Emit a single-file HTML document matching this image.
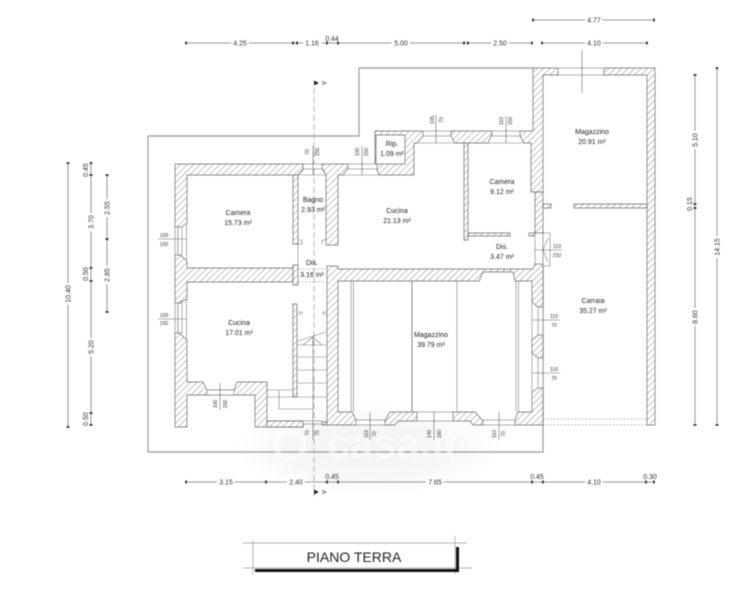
<!DOCTYPE html>
<html><head><meta charset="utf-8">
<style>
html,body{margin:0;padding:0;background:#fff;width:748px;height:600px;overflow:hidden}
svg{display:block;filter:blur(.4px)}
text{font-family:"Liberation Sans",sans-serif;fill:#222;text-anchor:middle}
.r text{font-size:7px}
.d text{font-size:7px;fill:#333}
.w text{font-size:5px;fill:#333}
.wall polygon{fill:url(#h);stroke:#666;stroke-width:.7}
.fr rect,.fr polyline,.fr line{fill:#fff;stroke:#777;stroke-width:.6}
.fr polyline{fill:none}
.dl line{stroke:#777;stroke-width:.8}
.dl path{stroke:#222;stroke-width:1.6}
.wl line{stroke:#666;stroke-width:.6}
</style></head><body>
<svg width="748" height="600" viewBox="0 0 748 600" xmlns="http://www.w3.org/2000/svg">
<defs>
<pattern id="h" width="4.6" height="4.6" patternUnits="userSpaceOnUse" patternTransform="rotate(45)">
<rect width="4.6" height="4.6" fill="#fff"/><line x1="0" y1="0" x2="0" y2="4.6" stroke="#888" stroke-width="1"/>
</pattern>
<radialGradient id="wm"><stop offset="0" stop-color="#000" stop-opacity=".05"/><stop offset=".65" stop-color="#000" stop-opacity=".03"/><stop offset="1" stop-color="#000" stop-opacity="0"/></radialGradient>
</defs>
<rect width="748" height="600" fill="#fff"/>
<ellipse cx="368" cy="450" rx="135" ry="45" fill="url(#wm)"/>

<!-- site boundary -->
<polyline points="148,136 359,136 359,68 533,68" fill="none" stroke="#999" stroke-width="1.2"/>
<polyline points="148,136 148,452 543,452 543,233" fill="none" stroke="#999" stroke-width="1.2"/>
<line x1="314" y1="88" x2="314" y2="496" stroke="#aaa" stroke-width=".9" stroke-dasharray="6 3"/>
<text x="392" y="458" style="font-size:42px;font-weight:bold;fill:#fff;opacity:.55">casa.it</text>
<circle cx="290" cy="445" r="14" fill="none" stroke="#fff" stroke-width="5" opacity=".5"/>

<!-- walls -->
<g class="wall">
<polygon points="175,164 303,164 303,170 298,175 187,175 187,223 181,227 175,227"/>
<polygon points="175,255 180,255 187,261 187,268 293,268 293,282 187,282 187,299 179,303 175,303"/>
<polygon points="175,333 179,333 187,340 187,382 203,382 207,390 234,390 237,382 267,382 267,421 303,421 303,427 255,427 255,395 187,395 187,427 175,427"/>
<polygon points="293,175 298,175 298,244 293,244"/>
<polygon points="293,265 298,265 298,285 293,285"/>
<polygon points="322,164 348,164 348,168 343,175 338,175 338,245 326,245 326,175 322,168"/>
<polygon points="375,131 423,131 423,136 417,143 414,143 414,175 379,175 377,170 377,164 405,164 405,135 376,135 376,164 375,164"/>
<polygon points="451,131 492,131 492,134 488,143 455,143 451,136"/>
<polygon points="520,131 533,131 533,68 558,68 558,75 543,75 543,192 531,192 531,143 524,143 520,136"/>
<polygon points="604,68 655,68 655,425 647,425 647,75 604,75"/>
<polygon points="535,192 543,192 543,233 535,233"/>
<polygon points="464,143 468,143 468,240 464,240"/>
<polygon points="468,233 510,233 510,236 468,236"/>
<polygon points="529,233 535,233 535,236 529,236"/>
<polygon points="543,204 551,204 551,208 543,208"/>
<polygon points="574,204 647,204 647,208 574,208"/>
<polygon points="293,304 297,304 297,397 293,397"/>
<polygon points="327,266 338,266 338,269 533,269 535,264 543,264 543,307 538,307 532,302 532,281 515,281 513,272 483,272 479,281 338,281 338,412 352,412 356,420 356,425 327,425"/>
<polygon points="385,425 385,421 390,412 417,412 417,421 398,421 395,425"/>
<polygon points="453,412 475,412 483,421 483,425 473,425 470,421 453,421"/>
<polygon points="515,425 515,420 518,412 532,412 532,392 538,388 543,388 543,425"/>
<polygon points="543,335 538,335 532,340 532,353 538,358 543,358"/>
<polygon points="267,421 303,421 303,427 267,427"/>
<polygon points="322,422 327,422 327,425 322,425"/>
</g>

<!-- windows and frames -->
<g class="fr">
<rect x="175" y="227" width="3" height="28"/><rect x="178" y="227" width="4" height="28"/>
<polyline points="186.500,223 186.500,261"/>
<rect x="175" y="303" width="3" height="30"/><rect x="178" y="303" width="4" height="30"/>
<polyline points="186.500,299 186.500,340"/>
<rect x="207" y="390" width="27" height="5"/>
<rect x="303" y="164" width="19" height="5"/>
<polyline points="298,175 327,175"/><polyline points="303,169 298,175"/><polyline points="322,169 326,175"/>
<rect x="348" y="164" width="29" height="5"/><polyline points="343,175 379,175"/>
<rect x="423" y="131" width="28" height="5"/><polyline points="417,143 455,143"/>
<rect x="492" y="131" width="28" height="5"/><polyline points="488,143 524,143"/>
<rect x="558" y="68" width="46" height="7"/>
<rect x="356" y="420" width="29" height="5"/>
<rect x="417" y="412" width="36" height="9"/>
<rect x="483" y="420" width="32" height="5"/>
<rect x="538" y="307" width="5" height="28"/><rect x="538" y="358" width="5" height="30"/>
<polyline points="532,302 532,340"/><polyline points="532,353 532,392"/>
<rect x="535" y="233" width="8" height="31"/><rect x="543" y="233" width="7" height="33"/>
<polyline points="548,238 543,250 548,262"/>
<rect x="303" y="421" width="19" height="3"/>
<polyline points="298,244 298,265"/>
<polyline points="298,240 302,240 302,244 298,244"/>
<polyline points="322,244 322,240 326,240"/>
<polyline points="298,312 302,312 302,314 298,314"/>
<polyline points="327,312 323,312 323,314 327,314"/>
<!-- stairs -->
<line x1="297" y1="345" x2="327" y2="345"/><line x1="297" y1="357" x2="327" y2="357"/><line x1="297" y1="370" x2="327" y2="370"/><line x1="297" y1="383" x2="327" y2="383"/><line x1="267" y1="397" x2="327" y2="397"/>
<line x1="267" y1="390" x2="293" y2="390"/>
<polyline points="279,390 279,409 313,409"/>
<line x1="298" y1="341" x2="326" y2="332"/>
<line x1="313" y1="337" x2="303" y2="345"/><line x1="313" y1="337" x2="322" y2="345"/><line x1="313" y1="337" x2="313" y2="345"/>
<line x1="313" y1="337" x2="313" y2="421"/>
<!-- magazzino inner lines -->
<line x1="351" y1="281" x2="351" y2="412"/><line x1="353.500" y1="281" x2="353.500" y2="412"/>
<line x1="412" y1="281" x2="412" y2="412" style="stroke:#888;stroke-width:1"/>
<line x1="457" y1="281" x2="457" y2="412"/>
<line x1="516" y1="281" x2="516" y2="412"/><line x1="518.500" y1="281" x2="518.500" y2="412"/>
</g>
<!-- dashed -->
<g stroke="#aaa" stroke-width=".7" stroke-dasharray="2 1.5" fill="none">
<line x1="298" y1="269" x2="327" y2="269"/><line x1="298" y1="282" x2="327" y2="282"/>
<line x1="543" y1="419" x2="647" y2="419"/><line x1="543" y1="425" x2="647" y2="425"/>
</g>

<!-- section arrows -->
<path d="M314 80.500l5 2.500-5 2.500z M314 489.500l5 2.500-5 2.500z" fill="#222"/>
<text transform="translate(322,83) rotate(90)" style="font-size:6px">A</text>
<text transform="translate(322,492) rotate(90)" style="font-size:6px">A</text>

<!-- window leaders -->
<g class="wl">
<line x1="158" y1="239" x2="187" y2="239"/><line x1="158" y1="319" x2="187" y2="319"/>
<line x1="313" y1="146" x2="313" y2="175"/><line x1="362" y1="146" x2="362" y2="175"/>
<line x1="436" y1="115" x2="436" y2="143"/><line x1="506" y1="116" x2="506" y2="143"/>
<line x1="582" y1="50" x2="582" y2="93"/>
<line x1="535" y1="250" x2="562" y2="250"/>
<line x1="532" y1="320" x2="560" y2="320"/><line x1="532" y1="373" x2="560" y2="373"/>
<line x1="370" y1="412" x2="370" y2="440"/><line x1="434" y1="412" x2="434" y2="440"/><line x1="499" y1="412" x2="499" y2="440"/>
<line x1="220" y1="383" x2="220" y2="410"/>
<line x1="313" y1="421" x2="313" y2="440"/>
</g>
<g class="w">
<text x="164" y="237">100</text><text x="164" y="246">150</text>
<text x="164" y="317">100</text><text x="164" y="325">150</text>
<text x="557" y="248">110</text><text x="557" y="257">210</text>
<text x="554" y="318">110</text><text x="554" y="327">70</text>
<text x="554" y="371">110</text><text x="554" y="380">70</text>
<text transform="translate(309,152) rotate(-90)">70</text><text transform="translate(319,152) rotate(-90)">155</text>
<text transform="translate(359,152) rotate(-90)">100</text><text transform="translate(368,152) rotate(-90)">150</text>
<text transform="translate(434,120) rotate(-90)">105</text><text transform="translate(443,120) rotate(-90)">70</text>
<text transform="translate(503,121) rotate(-90)">110</text><text transform="translate(512,121) rotate(-90)">150</text>
<text transform="translate(217,404) rotate(-90)">100</text><text transform="translate(227,404) rotate(-90)">200</text>
<text transform="translate(309,433) rotate(-90)">70</text><text transform="translate(319,433) rotate(-90)">70</text>
<text transform="translate(368,434) rotate(-90)">110</text><text transform="translate(376,434) rotate(-90)">70</text>
<text transform="translate(431,434) rotate(-90)">140</text><text transform="translate(441,434) rotate(-90)">160</text>
<text transform="translate(496,434) rotate(-90)">110</text><text transform="translate(505,434) rotate(-90)">70</text>
</g>

<!-- room labels -->
<g class="r">
<text x="238" y="215">Camera</text><text x="238" y="225">15.73 m²</text>
<text x="313" y="202">Bagno</text><text x="313" y="212">2.93 m²</text>
<text x="312" y="265">Dis.</text><text x="312" y="277">3.16 m²</text>
<text x="239" y="325">Cucina</text><text x="239" y="335">17.01 m²</text>
<text x="397" y="213">Cucina</text><text x="397" y="223">21.13 m²</text>
<text x="392" y="146">Rip.</text><text x="392" y="156">1.09 m²</text>
<text x="502" y="184">Camera</text><text x="502" y="194">9.12 m²</text>
<text x="592" y="134">Magazzino</text><text x="592" y="144">20.91 m²</text>
<text x="502" y="249">Dis.</text><text x="502" y="259">3.47 m²</text>
<text x="431" y="337">Magazzino</text><text x="431" y="347">39.79 m²</text>
<text x="593" y="303">Carraia</text><text x="593" y="313">35.27 m²</text>
</g>

<!-- dimension lines -->
<g class="dl">
<line x1="533" y1="20" x2="654" y2="20"/>
<line x1="186" y1="43" x2="532" y2="43"/><line x1="542" y1="43" x2="647" y2="43"/>
<line x1="186" y1="482" x2="654" y2="482"/>
<line x1="68" y1="163" x2="68" y2="427"/>
<line x1="91" y1="163" x2="91" y2="425"/>
<line x1="107" y1="175" x2="107" y2="312"/>
<line x1="695" y1="75" x2="695" y2="425" style="stroke:#999;stroke-width:1"/>
<line x1="717" y1="68" x2="717" y2="425" style="stroke:#999;stroke-width:1"/>
<path d="M533 18.500v3M654 18.500v3M186 41.500v3M293 41.500v3M297 41.500v3M327 41.500v3M338 41.500v3M464 41.500v3M468 41.500v3M532 41.500v3M542 41.500v3M647 41.500v3M186 480.500v3M266 480.500v3M327 480.500v3M338 480.500v3M532 480.500v3M543 480.500v3M646 480.500v3M654 480.500v3"/>
<path d="M66.500 163h3M66.500 427h3M89.500 163h3M89.500 175h3M89.500 268h3M89.500 281h3M89.500 413h3M89.500 425h3M105.500 175h3M105.500 239h3M105.500 312h3M693.500 75h3M693.500 204h3M693.500 208h3M693.500 425h3M715.500 68h3M715.500 425h3"/>
</g>
<g class="d">
<g style="paint-order:stroke" stroke="#fff" stroke-width="5">
<text x="594" y="22.500">4.77</text>
<text x="240" y="45.500">4.25</text><text x="312" y="45.500">1.16</text><text x="401" y="45.500">5.00</text><text x="500" y="45.500">2.50</text><text x="594" y="45.500">4.10</text>
<text x="226" y="484.500">3.15</text><text x="296" y="484.500">2.40</text><text x="435" y="484.500">7.65</text><text x="594" y="484.500">4.10</text>
<text transform="translate(70.500,294) rotate(-90)">10.40</text>
<text transform="translate(93.500,222) rotate(-90)">3.70</text>
<text transform="translate(93.500,347) rotate(-90)">5.20</text>
<text transform="translate(109.500,208) rotate(-90)">2.55</text>
<text transform="translate(109.500,275) rotate(-90)">2.85</text>
<text transform="translate(697.500,140) rotate(-90)">5.10</text>
<text transform="translate(697.500,317) rotate(-90)">8.60</text>
<text transform="translate(719.500,247) rotate(-90)">14.15</text>
</g>
<text x="332" y="41">0.44</text>
<text x="332" y="479">0.45</text><text x="537" y="479">0.45</text><text x="650" y="479">0.30</text>
<text transform="translate(88,170) rotate(-90)">0.45</text>
<text transform="translate(88,274) rotate(-90)">0.50</text>
<text transform="translate(88,419) rotate(-90)">0.50</text>
<text transform="translate(692,204) rotate(-90)">0.15</text>
</g>

<!-- title -->
<g stroke="#999" stroke-width=".7">
<line x1="243" y1="543" x2="467" y2="543"/>
<line x1="243" y1="568" x2="472" y2="568"/>
<line x1="253" y1="541" x2="253" y2="575"/>
<line x1="455" y1="536" x2="455" y2="574"/>
</g>
<path d="M255 570.500H457.500V547" fill="none" stroke="#111" stroke-width="3"/>
<text x="354" y="562" style="font-size:14px;fill:#222">PIANO TERRA</text>
</svg>
</body></html>
